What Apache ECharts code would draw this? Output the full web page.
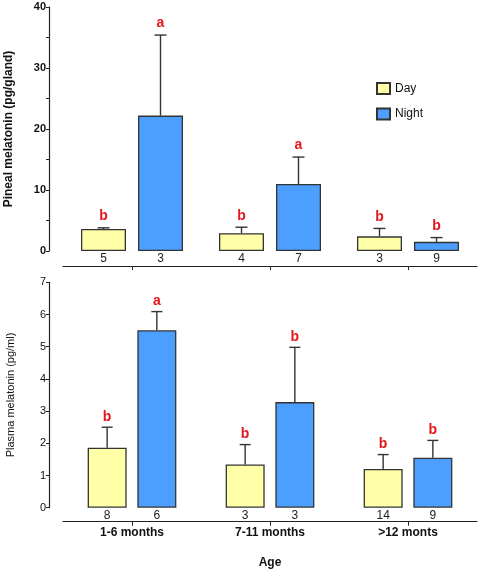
<!DOCTYPE html>
<html><head><meta charset="utf-8">
<script src="https://cdn.jsdelivr.net/npm/echarts@6/dist/echarts.min.js"></script>
<style>html,body{margin:0;padding:0;background:#fff}#c{width:484px;height:573px}</style>
</head><body><div id="c"></div>
<script>
const categories = ['1-6 months', '7-11 months', '>12 monts'];
const pinealDay = [3.6, 2.9, 2.4];
const pinealDayErr = [0.2, 1.0, 1.3];
const pinealNight = [22.2, 11.0, 1.5];
const pinealNightErr = [13.2, 4.4, 0.7];
const pinealDayN = ['5', '4', '3'];
const pinealNightN = ['3', '7', '9'];
const pinealDayLetters = ['b', 'b', 'b'];
const pinealNightLetters = ['a', 'a', 'b'];

const plasmaDay = [1.86, 1.34, 1.20];
const plasmaDayErr = [0.64, 0.62, 0.45];
const plasmaNight = [5.51, 3.28, 1.55];
const plasmaNightErr = [0.58, 1.70, 0.54];
const plasmaDayN = ['8', '3', '14'];
const plasmaNightN = ['6', '3', '9'];
const plasmaDayLetters = ['b', 'b', 'b'];
const plasmaNightLetters = ['a', 'b', 'b'];

const pinealTicks = {min: 0, max: 40, interval: 5, labelEvery: 10};
const plasmaTicks = {min: 0, max: 7, interval: 1};

const FONT = 'Liberation Sans, Arial, sans-serif';
const DAY = '#ffffa8';
const NIGHT = '#4d9fff';
const BORDER = '#333';

function barSeries(name, vals, ns, color, gi, bw, gap) {
  return {
    type: 'bar', name: name, xAxisIndex: gi, yAxisIndex: gi,
    barWidth: bw, barGap: gap,
    data: vals.map((v, i) => ({value: v, label: {formatter: ns[i]}})),
    itemStyle: {color: color, borderColor: BORDER, borderWidth: 1.3},
    label: {show: true, position: 'bottom', distance: 2, color: '#222', fontSize: 12, fontFamily: FONT},
    z: 2
  };
}
function errSeries(vals, errs, letters, gi, offset, capW, letterGap) {
  return {
    type: 'custom', xAxisIndex: gi, yAxisIndex: gi, z: 3,
    data: vals.map((v, i) => [i, v, v + errs[i], letters[i]]),
    renderItem: function (params, api) {
      const idx = api.value(0);
      const b = api.coord([idx, api.value(1)]);
      const t = api.coord([idx, api.value(2)]);
      const x = b[0] + offset;
      const style = {stroke: '#333', lineWidth: 1.4};
      return {type: 'group', children: [
        {type: 'line', shape: {x1: x, y1: b[1], x2: x, y2: t[1]}, style: style},
        {type: 'line', shape: {x1: x - capW / 2, y1: t[1], x2: x + capW / 2, y2: t[1]}, style: style},
        {type: 'text', style: {text: api.value(3), x: x, y: t[1] - letterGap, align: 'center', verticalAlign: 'middle',
          fill: '#e3161e', font: 'bold 14px ' + FONT}}
      ]};
    }
  };
}

const axisLine = {show: true, onZero: false, lineStyle: {color: '#222', width: 1.2}};
const option = {
  animation: false,
  textStyle: {fontFamily: FONT},
  grid: [
    {left: 63, width: 414, top: 7, height: 244, outerBoundsMode: 'none', containLabel: false},
    {left: 63, width: 414, top: 282.3, height: 225.4, outerBoundsMode: 'none', containLabel: false}
  ],
  legend: {
    data: ['Day', 'Night'], orient: 'vertical', left: 371, top: 77,
    itemWidth: 13, itemHeight: 11, itemGap: 12.5, icon: 'rect',
    textStyle: {fontSize: 12, fontFamily: FONT, color: '#111'}
  },
  xAxis: [
    {type: 'category', gridIndex: 0, data: categories, offset: 15, axisLine: axisLine,
     axisTick: {show: true, alignWithLabel: true, length: 4, lineStyle: {color: '#222'}},
     axisLabel: {show: false}, splitLine: {show: false}},
    {type: 'category', gridIndex: 1, data: categories, offset: 14, axisLine: axisLine,
     axisTick: {show: true, alignWithLabel: true, length: 4, lineStyle: {color: '#222'}},
     axisLabel: {show: true, margin: 5, fontSize: 12, fontWeight: 'bold', color: '#111', fontFamily: FONT},
     name: 'Age', nameLocation: 'middle', nameGap: 35,
     nameTextStyle: {fontSize: 12, fontWeight: 'bold', color: '#111', fontFamily: FONT},
     splitLine: {show: false}}
  ],
  yAxis: [
    {type: 'value', gridIndex: 0, min: pinealTicks.min, max: pinealTicks.max, interval: pinealTicks.interval, offset: 14,
     axisLine: axisLine, axisTick: {show: true, length: 3, lineStyle: {color: '#222'}},
     axisLabel: {margin: 3, fontSize: 11, fontWeight: 'bold', color: '#111', fontFamily: FONT,
       formatter: v => (v % pinealTicks.labelEvery === 0 ? String(v) : '')},
     splitLine: {show: false},
     name: 'Pineal melatonin (pg/gland)', nameLocation: 'middle', nameGap: 34.5,
     nameTextStyle: {fontSize: 12, fontWeight: 'bold', color: '#111', fontFamily: FONT}},
    {type: 'value', gridIndex: 1, min: plasmaTicks.min, max: plasmaTicks.max, interval: plasmaTicks.interval, offset: 14,
     axisLine: axisLine, axisTick: {show: true, length: 3, lineStyle: {color: '#222'}},
     axisLabel: {margin: 3, fontSize: 11, color: '#111', fontFamily: FONT},
     splitLine: {show: false},
     name: 'Plasma melatonin (pg/ml)', nameLocation: 'middle', nameGap: 33,
     nameTextStyle: {fontSize: 11, color: '#111', fontFamily: FONT}}
  ],
  series: [
    barSeries('Day', pinealDay, pinealDayN, DAY, 0, 45, '26.7%'),
    barSeries('Night', pinealNight, pinealNightN, NIGHT, 0, 45, '26.7%'),
    errSeries(pinealDay, pinealDayErr, pinealDayLetters, 0, -28.5, 12, 11.5),
    errSeries(pinealNight, pinealNightErr, pinealNightLetters, 0, 28.5, 12, 11.5),
    barSeries('Day', plasmaDay, plasmaDayN, DAY, 1, 39, '27.4%'),
    barSeries('Night', plasmaNight, plasmaNightN, NIGHT, 1, 39, '27.4%'),
    errSeries(plasmaDay, plasmaDayErr, plasmaDayLetters, 1, -24.85, 11, 10.5),
    errSeries(plasmaNight, plasmaNightErr, plasmaNightLetters, 1, 24.85, 11, 10.5)
  ]
};
echarts.init(document.getElementById('c'), null, {renderer: 'canvas'}).setOption(option);
</script></body></html>
